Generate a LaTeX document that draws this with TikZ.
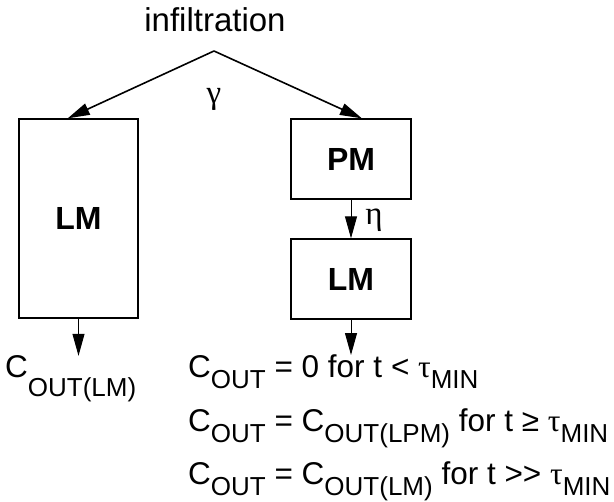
\documentclass[tikz,border=0pt]{standalone}
\usepackage{fontspec}
\setmainfont{Liberation Sans}
\newfontfamily\grk{Liberation Serif}
\usetikzlibrary{arrows.meta,calc}
\newcommand{\mysub}[2][11pt]{\raisebox{-#1}{\fontsize{26}{26}\selectfont #2}}
\newcommand{\mytau}{{\grk τ}}
\begin{document}
\begin{tikzpicture}[x=1pt,y=-1pt,
  box/.style={draw, line width=1.3pt, inner sep=0, font=\fontsize{32}{32}\selectfont\bfseries},
  tip/.style={-{Triangle[length=22pt,width=12pt]}},
  diag/.style={tip, line width=1.6pt},
  vert/.style={tip, line width=1pt},
  txt/.style={inner sep=0, anchor=base west, font=\fontsize{31.5}{31.5}\selectfont},
  greek/.style={inner sep=0, font=\fontsize{33}{33}\selectfont\grk}]
\useasboundingbox (0,0) rectangle (614,502);
\node[inner sep=0, anchor=base, font=\fontsize{33}{33}\selectfont] (infil) at (215,32) {infiltration};
\coordinate (apex) at (214,51);
\node[box, minimum width=119pt, minimum height=199pt] (lmL) at (78.5,218.5) {LM};
\node[box, minimum width=120pt, minimum height=80pt] (pm) at (351,159) {PM};
\node[box, minimum width=120pt, minimum height=80pt] (lmR) at (351,279) {LM};
\node[greek] (gam) at (214,99) {γ};
\draw[diag] (apex) -- ($(lmL.north west)!0.41!(lmL.north east)$);
\draw[diag] (apex) -- ($(pm.north west)!0.59!(pm.north east)$);
\draw[vert] (pm.south) -- (lmR.north);
\node[greek] (eta) at (374,220) {η};
\node[txt] (outL) at (5,378) {C\mysub[19pt]{OUT(LM)}};
\node[txt] (eq1) at (188,378) {C\mysub{OUT} = 0 for t < \mytau\mysub{MIN}};
\node[txt] (eq2) at (188,432) {C\mysub{OUT} = C\mysub{OUT(LPM)} for t ≥ \mytau\mysub{MIN}};
\node[txt] (eq3) at (188,485) {C\mysub{OUT} = C\mysub{OUT(LM)} for t >{}> \mytau\mysub{MIN}};
\draw[vert] (lmL.south) -- (lmL.south |- outL.north);
\draw[vert] (lmR.south) -- (lmR.south |- eq1.north);
\end{tikzpicture}
\end{document}
